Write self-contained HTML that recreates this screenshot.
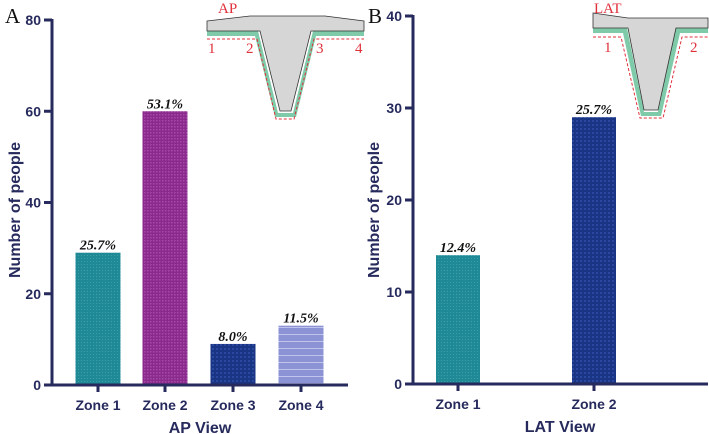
<!DOCTYPE html>
<html><head><meta charset="utf-8"><style>
body{margin:0;background:#fff}
svg{display:block;font-family:"Liberation Sans",Arial,sans-serif}
.tk{font-weight:bold;font-size:14px;fill:#262a5c}
.pct{font-family:"Liberation Serif",serif;font-style:italic;font-weight:bold;font-size:14px;fill:#111}
.red{font-family:"Liberation Serif",serif;font-size:15px;fill:#e0303a}
</style></head><body>
<svg id="c" width="709" height="434" viewBox="0 0 709 434">
<defs>
<pattern id="p1" width="3" height="3" patternUnits="userSpaceOnUse"><rect width="3" height="3" fill="#1f8a96"/><rect width="1" height="1" fill="#3aa0aa"/></pattern>
<pattern id="p2" width="3" height="3" patternUnits="userSpaceOnUse"><rect width="3" height="3" fill="#8a2a8c"/><rect width="1.5" height="1.5" fill="#a44aa6"/></pattern>
<pattern id="p3" width="4" height="4" patternUnits="userSpaceOnUse"><rect width="4" height="4" fill="#1a3584"/><rect width="2" height="2" fill="#2a48a0"/></pattern>
<pattern id="p4" width="4" height="7" patternUnits="userSpaceOnUse"><rect width="4" height="7" fill="#8c93d4"/><rect y="5" width="4" height="1" fill="#c0c4ec"/></pattern>
</defs>
<g id="insets">
<text x="5" y="23" font-family="Liberation Serif,serif" font-size="21" fill="#111">A</text>
<text x="368" y="23" font-family="Liberation Serif,serif" font-size="21" fill="#111">B</text>
<g>
<text x="218" y="13" class="red">AP</text>
<path d="M207,31 L258,31 L278,113 L293,113 L313,31 L364,31 L364,36 L316,36 L296,117 L275,117 L255,36 L207,36Z" fill="#7fcaa8"/>
<path d="M207,21 L250,16 L325,16 L364,21 L364,31 L311,31 L291,111 L280,111 L260,31 L207,31Z" fill="#d6d6d6" stroke="#333" stroke-width="0.8"/>
<path d="M207,39 L257,39 L276,119 L294,119 L314,39 L364,39" fill="none" stroke="#e0303a" stroke-width="1" stroke-dasharray="3,2"/>
<text x="208" y="53" class="red">1</text><text x="246" y="53" class="red">2</text><text x="316" y="53" class="red">3</text><text x="355" y="53" class="red">4</text>
</g>
<g>
<text x="594" y="13" class="red">LAT</text>
<path d="M593,28 L627,28 L644,112 L658,112 L676,28 L708,28 L708,33 L680,33 L661,116 L641,116 L623,33 L593,33Z" fill="#7fcaa8"/>
<path d="M593,13 L628,18 L708,18 L708,28 L676,28 L658,110 L644,110 L628,28 L593,28Z" fill="#d6d6d6" stroke="#333" stroke-width="0.8"/>
<path d="M593,37 L621,37 L640,118 L663,118 L682,37 L708,37" fill="none" stroke="#e0303a" stroke-width="1" stroke-dasharray="3,2"/>
<text x="604" y="52" class="red">1</text><text x="690" y="52" class="red">2</text>
</g>
</g>
</svg>
<script>
const catsA=["Zone 1","Zone 2","Zone 3","Zone 4"];
const valsA=[29,60,9,13];
const pctA=["25.7%","53.1%","8.0%","11.5%"];
const ticksA=[0,20,40,60,80];
const catsB=["Zone 1","Zone 2"];
const valsB=[14,29];
const pctB=["12.4%","25.7%"];
const ticksB=[0,10,20,30,40];
const NS="http://www.w3.org/2000/svg";
const svg=document.getElementById('c');
function mk(t,a,p){const e=document.createElementNS(NS,t);for(const k in a)e.setAttribute(k,a[k]);(p||svg).appendChild(e);return e;}
function chart(o){
  const g=mk('g',{});
  
  
  const y=v=>o.y0-(v/o.max)*(o.y0-o.y1);
  const x=i=>o.xs[i];
  o.vals.forEach((v,i)=>{
    const r=mk('rect',{x:x(i)-o.bw/2,y:y(v),width:o.bw,height:o.y0-y(v),fill:'url(#'+o.pats[i]+')'},g);
    
    
    const t=mk('text',{x:x(i),y:y(v)-3,'text-anchor':'middle',class:'pct'},g);t.textContent=o.pct[i];
    
    
    mk('line',{x1:x(i),x2:x(i),y1:o.y0,y2:o.y0+7,stroke:'#262a5c','stroke-width':3},g);
    const c=mk('text',{x:x(i),y:o.y0+25,'text-anchor':'middle',class:'tk'},g);c.textContent=o.cats[i];
    
    
  });
  o.ticks.forEach(v=>{
    mk('line',{x1:o.ax-8,x2:o.ax,y1:y(v),y2:y(v),stroke:'#262a5c','stroke-width':3},g);
    const t=mk('text',{x:o.ax-11,y:y(v)+5,'text-anchor':'end',class:'tk'},g);t.textContent=v;
    
    
  });
  mk('line',{x1:o.ax,x2:o.ax,y1:o.y1-1,y2:o.y0+1.5,stroke:'#262a5c','stroke-width':3},g);
  mk('line',{x1:o.ax-1.5,x2:o.xend,y1:o.y0,y2:o.y0,stroke:'#262a5c','stroke-width':3},g);
  const xt=mk('text',{x:o.xtx,y:o.y0+48,'text-anchor':'middle',class:'tk'},g);xt.textContent=o.xtitle;
  xt.style.fontSize='16px';
  
  
  const yt=mk('text',{x:0,y:0,'text-anchor':'middle',class:'tk',transform:'translate('+o.ytx+',210) rotate(-90)'},g);yt.textContent='Number of people';
  yt.style.fontSize='16px';
  
  
}
chart({name:'ap-chart',cats:catsA,vals:valsA,pct:pctA,ticks:ticksA,max:80,y0:385,y1:20,ax:52,xend:348,xs:[98,165,233,301],bw:45,pats:['p1','p2','p3','p4'],xtitle:'AP View',xtx:200,ytx:20});
chart({name:'lat-chart',cats:catsB,vals:valsB,pct:pctB,ticks:ticksB,max:40,y0:384,y1:16,ax:413,xend:708,xs:[458,594],bw:44,pats:['p1','p3'],xtitle:'LAT View',xtx:560,ytx:379});
</script>
</body></html>
